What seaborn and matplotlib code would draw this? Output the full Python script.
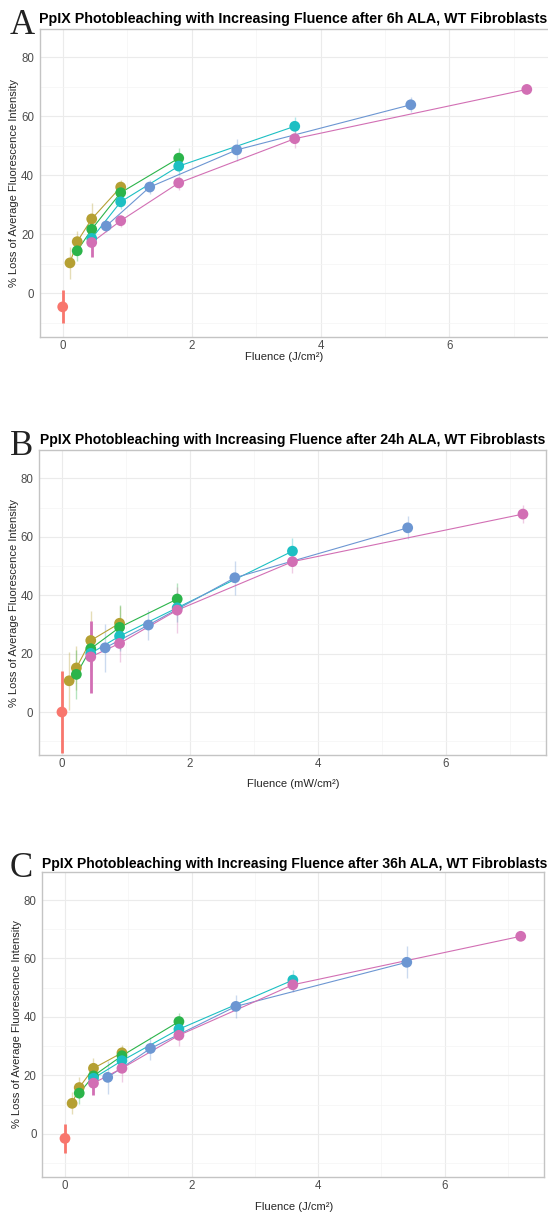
import numpy as np
import pandas as pd
import matplotlib
matplotlib.use('Agg')
import matplotlib.pyplot as plt
import seaborn as sns

# ── DATA ─────────────────────────────────────────────────────────────────────

series = ['control', 'step 1', 'step 2', 'step 3', 'step 4', 'step 5']
palette = ['#F8766D', '#B5A033', '#2BB44A', '#1DBFC3', '#6C96D2', '#D26FB4']

fluence = {
    'control': [0.0],
    'step 1': [0.1125, 0.225, 0.45, 0.9],
    'step 2': [0.225, 0.45, 0.9, 1.8],
    'step 3': [0.45, 0.9, 1.8, 3.6],
    'step 4': [0.675, 1.35, 2.7, 5.4],
    'step 5': [0.45, 0.9, 1.8, 3.6, 7.2],
}

loss_6h = {
    'control': [-4.6],
    'step 1': [10.3, 17.5, 25.2, 36.0],
    'step 2': [14.4, 21.7, 34.1, 45.8],
    'step 3': [18.6, 31.0, 43.1, 56.6],
    'step 4': [22.8, 36.0, 48.6, 63.9],
    'step 5': [17.2, 24.6, 37.4, 52.4, 69.1],
}
sd_6h = {
    'control': [5.6],
    'step 1': [5.3, 3.5, 5.3, 2.4],
    'step 2': [3.5, 3.0, 2.5, 3.5],
    'step 3': [2.5, 2.5, 3.0, 3.0],
    'step 4': [2.0, 2.5, 3.8, 2.5],
    'step 5': [5.0, 2.0, 2.5, 3.0, 1.5],
}

loss_24h = {
    'control': [0.0],
    'step 1': [10.7, 15.1, 24.5, 30.4],
    'step 2': [12.9, 21.7, 29.0, 38.7],
    'step 3': [20.1, 26.0, 35.7, 55.1],
    'step 4': [22.0, 29.8, 46.0, 63.1],
    'step 5': [18.9, 23.5, 34.9, 51.5, 67.8],
}
sd_24h = {
    'control': [14.0],
    'step 1': [10.0, 7.5, 10.0, 6.0],
    'step 2': [8.5, 8.0, 7.5, 5.5],
    'step 3': [6.0, 5.0, 5.0, 4.6],
    'step 4': [8.3, 5.2, 5.8, 4.0],
    'step 5': [12.3, 6.3, 8.0, 4.0, 3.0],
}

loss_36h = {
    'control': [-1.6],
    'step 1': [10.4, 15.8, 22.4, 27.7],
    'step 2': [13.9, 19.8, 26.7, 38.4],
    'step 3': [19.0, 25.0, 35.8, 52.6],
    'step 4': [19.3, 29.2, 43.6, 58.7],
    'step 5': [17.3, 22.4, 33.7, 51.0, 67.6],
}
sd_36h = {
    'control': [5.0],
    'step 1': [3.8, 3.5, 3.4, 2.6],
    'step 2': [3.8, 3.0, 3.0, 2.8],
    'step 3': [3.0, 3.0, 3.0, 3.6],
    'step 4': [5.6, 3.8, 4.0, 5.5],
    'step 5': [4.0, 4.6, 3.8, 2.5, 1.0],
}

# series whose first error bar is drawn solid in the original
solid_first = ['control', 'step 5']

panels = [
    ('A', 'PpIX Photobleaching with Increasing Fluence after 6h ALA, WT Fibroblasts',
     'Fluence (J/cm²)', loss_6h, sd_6h),
    ('B', 'PpIX Photobleaching with Increasing Fluence after 24h ALA, WT Fibroblasts',
     'Fluence (mW/cm²)', loss_24h, sd_24h),
    ('C', 'PpIX Photobleaching with Increasing Fluence after 36h ALA, WT Fibroblasts',
     'Fluence (J/cm²)', loss_36h, sd_36h),
]

# ── LAYOUT (pixels of a 548x1216 canvas) ─────────────────────────────────────

W, H = 548, 1216
# left, top, right, bottom of each panel
boxes = [(39.5, 28.5, 550, 336.8), (38.9, 450, 546, 755.1), (42.2, 871.6, 543.5, 1176.8)]
title_base = [23, 444, 868]
title_left = [39, 40, 42]
letter_base = [34, 455, 877]
xlab_pos = [(284, 357), (293, 784), (294, 1207)]
ylab_x = [14, 14, 17]

sns.set_theme(style='white')
plt.rcParams['font.family'] = ['Liberation Sans', 'DejaVu Sans']

fig = plt.figure(figsize=(W / 100, H / 100), dpi=100)
renderer = fig.canvas.get_renderer()
pal = dict(zip(series, palette))

for i, (letter, title, xlab, loss, sd) in enumerate(panels):
    rows = []
    for s in series:
        for k, (x, m, e) in enumerate(zip(fluence[s], loss[s], sd[s])):
            rows.append({'series': s, 'fluence': x, 'loss': m, 'sd': e, 'k': k})
    df = pd.DataFrame(rows)

    l, t, r, b = boxes[i]
    ax = fig.add_axes([l / W, 1 - b / H, (r - l) / W, (b - t) / H])

    # error bars
    for s in series:
        d = df[df['series'] == s]
        for _, row in d.iterrows():
            solid = s in solid_first and row['k'] == 0
            ax.vlines(row['fluence'], row['loss'] - row['sd'], row['loss'] + row['sd'],
                      color=pal[s], alpha=1.0 if solid else 0.35,
                      lw=2.0 if solid else 1.0, zorder=1)

    sns.lineplot(data=df, x='fluence', y='loss', hue='series', palette=pal,
                 estimator=None, sort=True, lw=0.8, legend=False, ax=ax, zorder=2)
    sns.scatterplot(data=df, x='fluence', y='loss', hue='series', palette=pal,
                    s=60, linewidth=0, legend=False, ax=ax, zorder=3)

    ax.set_xlim(-0.36, 7.56)
    ax.set_ylim(-14.75, 89.75)
    ax.set_xticks([0, 2, 4, 6])
    ax.set_yticks([0, 20, 40, 60, 80])
    ax.set_xticks([1, 3, 5, 7], minor=True)
    ax.set_yticks([-10, 10, 30, 50, 70], minor=True)
    ax.grid(True, which='major', color='#EBEBEB', lw=0.8)
    ax.grid(True, which='minor', color='#F4F4F4', lw=0.5)
    ax.set_axisbelow(True)
    ax.tick_params(which='both', length=0, labelsize=8.3, labelcolor='#4D4D4D')
    ax.tick_params(axis='x', pad=2)
    ax.tick_params(axis='y', pad=4)
    ax.set_xlabel('')
    ax.set_ylabel('')
    for sp in ax.spines.values():
        sp.set_color('#C4C4C4')
        sp.set_linewidth(1.0)

    # title shrunk to fit between its left edge and the right side of the canvas
    tt = fig.text(title_left[i] / W, 1 - title_base[i] / H, title, fontsize=10.3,
                  weight='bold', ha='left', va='baseline', color='black')
    width = tt.get_window_extent(renderer).width
    room = W - 1 - title_left[i]
    if width > room:
        tt.set_fontsize(10.3 * room / width)

    fig.text(10 / W, 1 - letter_base[i] / H, letter, fontsize=25,
             family=['Liberation Serif', 'DejaVu Serif'], ha='left', va='baseline',
             color='#222222')
    fig.text(xlab_pos[i][0] / W, 1 - xlab_pos[i][1] / H, xlab, fontsize=8.1,
             ha='center', va='center')
    fig.text(ylab_x[i] / W, 1 - (t + b) / 2 / H,
             '% Loss of Average Fluorescence Intensity', fontsize=8.0,
             rotation=90, ha='center', va='center')

fig.savefig('out.png', dpi=100)
